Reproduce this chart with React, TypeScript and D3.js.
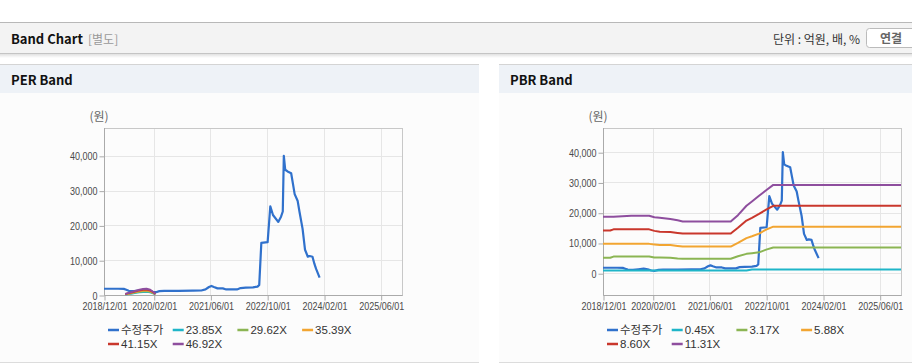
import { useEffect, useRef } from 'react';
import * as d3 from 'd3';

const W = 912, H = 364;
const PLOT_W = 298, PLOT_TOP = 128, PLOT_BOTTOM = 295;

const FONT_UI = '"Noto Sans CJK KR", "Noto Sans", sans-serif';
const FONT_AXIS = '"Liberation Sans", Arial, "Noto Sans CJK KR", sans-serif';

const X_TICKS = ['2018-12-01', '2020-02-01', '2021-06-01', '2022-10-01', '2024-02-01', '2025-06-01'];
const X_DOMAIN = ['2018-12-01', '2025-12-01'];
const Y_TICKS = [0, 10000, 20000, 30000, 40000];

const SERIES_COLORS = ['#3071cc', '#1fb5c8', '#8bb553', '#f2a531', '#c9372c', '#8e4e9e'];

// 수정주가 (shared by both charts)
const PRICE_DATES = [
  '2018-12-01', '2019-02-01', '2019-04-01', '2019-05-20', '2019-06-10', '2019-07-01', '2019-08-15',
  '2019-10-01', '2019-11-15', '2019-12-20', '2020-01-20', '2020-02-20', '2020-03-20', '2020-05-01',
  '2020-09-01', '2021-01-01', '2021-03-15', '2021-04-20', '2021-05-20', '2021-06-10', '2021-07-01',
  '2021-08-01', '2021-09-15', '2021-10-15', '2022-01-15', '2022-02-15', '2022-04-01', '2022-06-01',
  '2022-07-10', '2022-07-25', '2022-08-12', '2022-10-05', '2022-10-28', '2022-11-20', '2023-01-04',
  '2023-01-28', '2023-02-12', '2023-02-21', '2023-03-05', '2023-03-25', '2023-04-25', '2023-05-10',
  '2023-05-25', '2023-06-20', '2023-07-05', '2023-08-01', '2023-08-22', '2023-09-15', '2023-10-01',
  '2023-10-25', '2023-11-10', '2023-11-25', '2023-12-25',
];
const PRICE = [
  1800, 1800, 1800, 1750, 1500, 1200, 1100,
  1300, 1500, 1300, 900, 800, 1100, 1200,
  1200, 1250, 1300, 1600, 2300, 2600, 2300,
  1900, 1900, 1600, 1600, 2000, 2100, 2200,
  2400, 2900, 15000, 15200, 25500, 23000, 21000,
  22500, 24000, 40000, 36000, 35500, 35000, 32000,
  29000, 27000, 24000, 19000, 13000, 11000, 11200,
  11000, 9000, 7500, 5000,
];

// PER band
const PER_LABELS = ['23.85X', '29.62X', '35.39X', '41.15X', '46.92X'];
const PER_DATES = [
  '2019-06-01', '2019-07-01', '2019-08-01', '2019-09-01', '2019-10-01',
  '2019-11-01', '2019-12-01', '2020-01-01', '2020-02-01', '2020-02-15',
];
const PER_2385 = [150, 300, 460, 610, 760, 860, 910, 760, 410, 150];
const PER_2962 = [190, 380, 570, 760, 950, 1070, 1140, 950, 500, 190];
const PER_3539 = [230, 450, 680, 900, 1130, 1280, 1360, 1130, 600, 230];
const PER_4115 = [260, 530, 790, 1050, 1320, 1490, 1580, 1320, 700, 260];
const PER_4692 = [300, 600, 900, 1200, 1500, 1700, 1800, 1500, 800, 300];

// PBR band
const PBR_LABELS = ['0.45X', '3.17X', '5.88X', '8.60X', '11.31X'];
const PBR_DATES = [
  '2018-12-01', '2019-02-01', '2019-03-01', '2019-08-01', '2020-01-01', '2020-02-15',
  '2020-04-01', '2020-07-01', '2020-09-01', '2020-10-15', '2021-12-01', '2022-02-01',
  '2022-04-15', '2022-06-01', '2022-08-01', '2022-10-01', '2022-12-01', '2025-12-01',
];
const PBR_045 = [900, 900, 900, 900, 900, 900, 900, 900, 900, 900, 900, 900, 900, 1200, 1200, 1200, 1200, 1200];
const PBR_317 = [5100, 5100, 5500, 5500, 5500, 5200, 5200, 5100, 4900, 4800, 4800, 5600, 6400, 6600, 6900, 7800, 8500, 8500];
const PBR_588 = [9700, 9700, 9700, 9700, 9700, 9500, 9300, 9300, 9000, 8800, 8800, 10000, 11600, 12200, 13100, 14400, 15400, 15400];
const PBR_860 = [14100, 14100, 14500, 14500, 14500, 14000, 13700, 13600, 13300, 13100, 13100, 15000, 17400, 18300, 19600, 21000, 22300, 22300];
const PBR_1131 = [18700, 18700, 18700, 19000, 19000, 18500, 18300, 17900, 17500, 17100, 17100, 19200, 22300, 23700, 25600, 27400, 29200, 29200];

const parse = d3.timeParse('%Y-%m-%d');
const zip = (dates, values) => dates.map((d, i) => [parse(d), values[i]]);

// axis labels in the original use a narrow font: digits ~5px, punctuation ~2.5px
const narrowWidth = (s) => [...s].reduce((w, c) => w + (/[0-9]/.test(c) ? 5 : 2.5), 0);

function drawPanel(svg, { px, pw, title }) {
  const g = svg.append('g');
  g.append('rect').attr('x', px).attr('y', 64).attr('width', pw).attr('height', 298).attr('fill', '#fcfcfc');
  g.append('rect').attr('x', px).attr('y', 65).attr('width', pw).attr('height', 28).attr('fill', '#eef2f7');
  g.append('line').attr('x1', px).attr('x2', px + pw).attr('y1', 64.5).attr('y2', 64.5).attr('stroke', '#d4d4d4');
  g.append('line').attr('x1', px).attr('x2', px + pw).attr('y1', 362.5).attr('y2', 362.5).attr('stroke', '#dcdcdc');
  g.append('text')
    .attr('x', px + 11).attr('y', 84.5)
    .attr('font-family', FONT_UI).attr('font-size', 13).attr('font-weight', 700)
    .attr('fill', '#111').text(title);
}

function drawChart(svg, { x0, yMin, bands, labels }) {
  const x = d3.scaleTime().domain(X_DOMAIN.map(parse)).range([x0, x0 + PLOT_W]);
  const y = d3.scaleLinear().domain([yMin, 48000]).range([PLOT_BOTTOM, PLOT_TOP]);
  const g = svg.append('g');

  // unit
  g.append('text')
    .attr('x', x0 - 5).attr('y', 121).attr('text-anchor', 'middle')
    .attr('font-family', FONT_UI).attr('font-size', 12).attr('fill', '#666')
    .text('(원)');

  // grid
  g.append('g').selectAll('line').data(Y_TICKS).join('line')
    .attr('x1', x0).attr('x2', x0 + PLOT_W)
    .attr('y1', (d) => Math.round(y(d)) + 0.5).attr('y2', (d) => Math.round(y(d)) + 0.5)
    .attr('stroke', '#e6e6e6');
  g.append('g').selectAll('line').data(X_TICKS.map(parse)).join('line')
    .attr('x1', (d) => Math.round(x(d)) + 0.5).attr('x2', (d) => Math.round(x(d)) + 0.5)
    .attr('y1', PLOT_TOP).attr('y2', PLOT_BOTTOM)
    .attr('stroke', '#e6e6e6');

  g.append('rect')
    .attr('x', x0 + 0.5).attr('y', PLOT_TOP + 0.5).attr('width', PLOT_W).attr('height', PLOT_BOTTOM - PLOT_TOP)
    .attr('fill', 'none').attr('stroke', '#c8c8c8');
  g.append('path')
    .attr('d', `M${x0 + 0.5},${PLOT_TOP}V${PLOT_BOTTOM + 0.5}H${x0 + PLOT_W + 0.5}`)
    .attr('fill', 'none').attr('stroke', '#aaa');

  // axes
  const yAxis = g.append('g').attr('transform', `translate(${x0 + 0.5},0.5)`)
    .call(d3.axisLeft(y).tickValues(Y_TICKS).tickSize(5).tickPadding(2).tickFormat(d3.format(',')));
  const xAxis = g.append('g').attr('transform', `translate(0.5,${PLOT_BOTTOM + 0.5})`)
    .call(d3.axisBottom(x).tickValues(X_TICKS.map(parse)).tickSize(5).tickPadding(2).tickFormat(d3.timeFormat('%Y/%m/%d')));
  [yAxis, xAxis].forEach((a) => {
    a.select('.domain').remove();
    a.selectAll('line').attr('stroke', '#aaa');
    a.selectAll('text')
      .attr('fill', '#4a4a4a').attr('font-size', 11).attr('font-family', FONT_AXIS)
      .each(function () {
        d3.select(this)
          .attr('textLength', narrowWidth(this.textContent))
          .attr('lengthAdjust', 'spacingAndGlyphs');
      });
  });

  // series
  const line = d3.line().x((d) => x(d[0])).y((d) => y(d[1]));
  g.append('g').selectAll('path').data(bands).join('path')
    .attr('d', (d) => line(d))
    .attr('fill', 'none')
    .attr('stroke', (d, i) => SERIES_COLORS[i])
    .attr('stroke-width', (d, i) => (i === 0 ? 2.2 : 2))
    .attr('stroke-linejoin', 'round');

  // legend
  const items = ['수정주가', ...labels];
  const legend = g.append('g').attr('transform', `translate(${x0 + 4},0)`);
  items.forEach((label, i) => {
    const lx = (i % 4) * 64.7;
    const ly = 330 + Math.floor(i / 4) * 14;
    legend.append('line')
      .attr('x1', lx).attr('x2', lx + 11).attr('y1', ly).attr('y2', ly)
      .attr('stroke', SERIES_COLORS[i]).attr('stroke-width', 2.5);
    legend.append('text')
      .attr('x', lx + 13).attr('y', ly).attr('dy', '0.36em')
      .attr('font-family', FONT_AXIS).attr('font-size', 11.5).attr('fill', '#333')
      .text(label);
  });
}

export default function App() {
  const svgRef = useRef(null);

  useEffect(() => {
    const svg = d3.select(svgRef.current);
    svg.selectAll('*').remove();

    svg.append('rect').attr('width', W).attr('height', H).attr('fill', '#fff');

    // Header bar
    const defs = svg.append('defs');
    const grad = defs.append('linearGradient').attr('id', 'hdrShadow').attr('x1', 0).attr('x2', 0).attr('y1', 0).attr('y2', 1);
    grad.append('stop').attr('offset', 0).attr('stop-color', '#000').attr('stop-opacity', 0.12);
    grad.append('stop').attr('offset', 1).attr('stop-color', '#000').attr('stop-opacity', 0);
    svg.append('rect').attr('x', 0).attr('y', 22).attr('width', W).attr('height', 31).attr('fill', '#f3f3f3');
    svg.append('line').attr('x1', 0).attr('x2', W).attr('y1', 22.5).attr('y2', 22.5).attr('stroke', '#b8b8b8');
    svg.append('line').attr('x1', 0).attr('x2', W).attr('y1', 53.5).attr('y2', 53.5).attr('stroke', '#c4c4c4');
    svg.append('rect').attr('x', 0).attr('y', 54).attr('width', W).attr('height', 4).attr('fill', 'url(#hdrShadow)');

    svg.append('text')
      .attr('x', 11).attr('y', 43.5)
      .attr('font-family', FONT_UI).attr('font-size', 13).attr('font-weight', 700).attr('fill', '#111')
      .text('Band Chart');
    svg.append('text')
      .attr('x', 88).attr('y', 43.5)
      .attr('font-family', FONT_UI).attr('font-size', 12).attr('fill', '#999')
      .text('[별도]');
    svg.append('text')
      .attr('x', 860).attr('y', 43.5).attr('text-anchor', 'end')
      .attr('font-family', FONT_UI).attr('font-size', 12).attr('fill', '#333')
      .text('단위 : 억원, 배, %');
    svg.append('rect')
      .attr('x', 866.5).attr('y', 28.5).attr('width', 60).attr('height', 19).attr('rx', 3)
      .attr('fill', '#fff').attr('stroke', '#bbb');
    svg.append('text')
      .attr('x', 880).attr('y', 43)
      .attr('font-family', FONT_UI).attr('font-size', 12).attr('font-weight', 700).attr('fill', '#666')
      .text('연결');

    drawPanel(svg, { px: 0, pw: 479, title: 'PER Band' });
    drawPanel(svg, { px: 499, pw: 413, title: 'PBR Band' });

    drawChart(svg, {
      x0: 104,
      yMin: 0,
      labels: PER_LABELS,
      bands: [
        zip(PRICE_DATES, PRICE),
        zip(PER_DATES, PER_2385),
        zip(PER_DATES, PER_2962),
        zip(PER_DATES, PER_3539),
        zip(PER_DATES, PER_4115),
        zip(PER_DATES, PER_4692),
      ],
    });
    drawChart(svg, {
      x0: 603,
      yMin: -7200,
      labels: PBR_LABELS,
      bands: [
        zip(PRICE_DATES, PRICE),
        zip(PBR_DATES, PBR_045),
        zip(PBR_DATES, PBR_317),
        zip(PBR_DATES, PBR_588),
        zip(PBR_DATES, PBR_860),
        zip(PBR_DATES, PBR_1131),
      ],
    });
  }, []);

  return (
    <svg
      ref={svgRef}
      width={W}
      height={H}
      style={{ position: 'absolute', left: 0, top: 0, display: 'block' }}
    />
  );
}
